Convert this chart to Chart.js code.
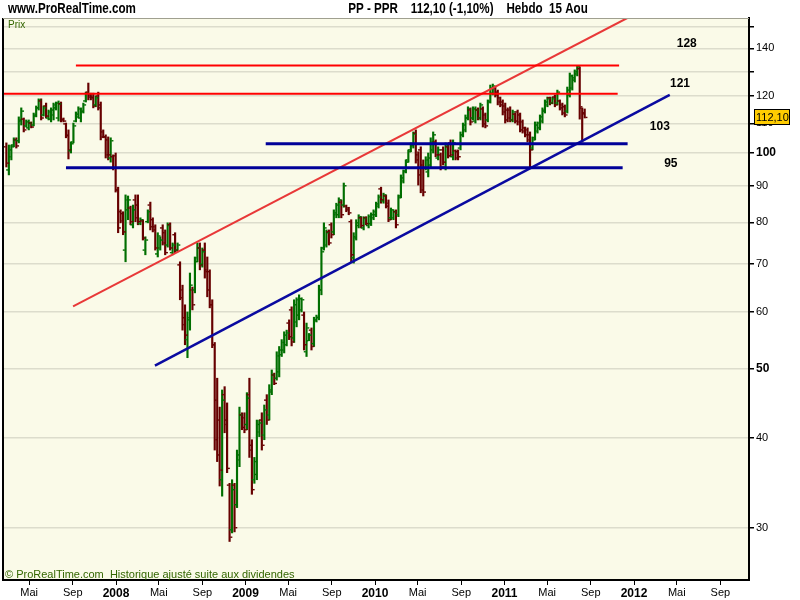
<!DOCTYPE html>
<html>
<head>
<meta charset="utf-8">
<script src="https://cdn.jsdelivr.net/npm/chart.js@4.4.0/dist/chart.umd.min.js"></script>
<style>
  html, body { margin: 0; padding: 0; background: #fff; }
  canvas { display: block; }
</style>
</head>
<body>
<canvas id="chart" width="800" height="600"></canvas>
<script>
// weekly bars, PP (PPR), from the week of 26 Feb 2007 to the week of 15 Aug 2011
const firstWeek = "2007-02-26";

const opens = [
  102.0, 94.7, 98.8, 102.6, 104.3, 104.0, 110.8, 111.5, 109.1, 108.4,
  110.1, 109.4, 112.6, 115.6, 118.2, 113.0, 116.3, 111.9, 111.5, 113.0,
  115.6, 111.9, 117.1, 111.5, 109.8, 106.0, 100.7, 103.6, 110.8, 112.3,
  111.9, 114.1, 118.2, 121.6, 120.5, 119.7, 116.7, 120.1, 116.7, 107.0,
  105.3, 104.3, 98.4, 98.8, 99.1, 88.8, 82.8, 82.3, 73.2, 83.3,
  83.8, 79.4, 86.0, 84.6, 79.7, 80.4, 73.2, 80.2, 84.6, 80.7,
  78.9, 72.3, 73.7, 78.6, 77.4, 74.4, 79.4, 72.6, 76.9, 73.2,
  69.8, 64.4, 58.9, 54.9, 58.5, 64.4, 64.4, 71.4, 73.7, 70.0,
  73.2, 68.7, 68.3, 61.4, 54.0, 45.2, 42.4, 35.0, 46.0, 42.4,
  34.4, 29.8, 34.4, 32.3, 37.3, 43.1, 42.7, 41.8, 46.0, 39.1,
  35.0, 35.6, 40.8, 42.4, 40.4, 45.2, 43.1, 46.4, 49.0, 48.5,
  49.5, 52.3, 53.1, 54.0, 57.9, 60.4, 55.2, 58.1, 59.4, 60.4,
  59.4, 52.8, 54.7, 56.6, 54.2, 58.3, 58.9, 64.4, 73.7, 74.4,
  77.6, 79.4, 77.6, 82.0, 82.0, 85.4, 84.6, 84.3, 83.8, 80.2,
  71.4, 76.4, 79.2, 81.2, 78.6, 81.2, 79.2, 79.7, 81.2, 82.0,
  84.3, 89.1, 85.7, 87.1, 85.1, 81.2, 81.2, 82.8, 82.0, 87.1,
  91.4, 94.4, 97.8, 101.0, 102.3, 106.6, 99.4, 101.0, 96.2, 95.3,
  94.1, 96.2, 101.0, 103.6, 98.4, 99.4, 101.0, 95.6, 102.0, 103.3,
  98.8, 100.7, 100.4, 101.6, 106.0, 107.7, 111.9, 114.8, 111.9, 110.8,
  114.8, 111.9, 115.2, 113.0, 111.2, 118.2, 121.2, 123.2, 121.6, 119.4,
  117.8, 116.3, 114.8, 114.8, 111.2, 113.3, 114.1, 113.0, 110.5, 108.4,
  107.7, 106.0, 101.6, 105.0, 107.3, 108.4, 110.8, 114.4, 116.7, 119.4,
  117.4, 119.7, 117.4, 118.2, 116.7, 116.0, 114.4, 120.5, 123.2, 126.4,
  128.9, 131.1, 115.5, 113.8
];

const highs = [
  103.3, 102.6, 102.6, 105.0, 105.0, 112.3, 115.6, 111.9, 111.2, 111.2,
  110.5, 113.7, 116.3, 119.0, 119.0, 116.3, 117.4, 114.8, 115.6, 117.4,
  117.8, 118.2, 117.8, 111.9, 110.1, 107.7, 103.6, 110.1, 114.1, 116.0,
  115.6, 117.4, 121.6, 125.2, 121.2, 121.2, 120.1, 121.6, 117.8, 107.7,
  106.0, 105.3, 105.0, 99.4, 100.0, 89.6, 83.3, 82.8, 87.4, 87.1,
  84.3, 84.6, 87.4, 87.4, 81.2, 80.7, 76.4, 83.3, 85.4, 81.2,
  79.4, 77.4, 76.4, 79.4, 78.1, 79.9, 79.9, 74.9, 77.4, 74.9,
  70.5, 65.4, 61.4, 60.0, 68.0, 65.0, 71.6, 74.9, 74.9, 73.7,
  74.9, 71.6, 68.7, 62.4, 54.4, 48.5, 44.2, 46.7, 47.2, 44.8,
  34.6, 35.0, 34.6, 38.5, 44.2, 43.4, 43.4, 46.3, 48.5, 39.8,
  37.6, 42.4, 42.4, 43.4, 44.5, 46.0, 47.5, 49.8, 49.3, 52.8,
  53.7, 54.9, 56.3, 56.6, 58.5, 61.0, 62.4, 62.8, 63.4, 62.8,
  60.0, 57.9, 56.0, 57.0, 59.0, 59.4, 65.4, 73.9, 79.9, 78.1,
  78.1, 79.9, 83.3, 85.1, 86.6, 86.0, 90.8, 84.6, 84.0, 80.7,
  77.4, 80.7, 82.0, 81.5, 81.5, 81.5, 82.0, 82.5, 83.3, 85.4,
  87.4, 89.6, 87.9, 87.4, 86.0, 83.8, 83.3, 83.3, 87.4, 93.2,
  94.7, 97.8, 101.0, 103.3, 107.0, 107.7, 100.4, 102.0, 97.8, 98.8,
  100.0, 105.0, 107.0, 104.3, 102.0, 100.0, 102.0, 103.3, 102.6, 104.3,
  104.3, 101.0, 101.0, 107.0, 110.1, 113.0, 116.0, 115.6, 116.0, 116.0,
  115.6, 117.4, 116.0, 113.7, 118.6, 124.4, 124.8, 123.6, 122.4, 119.7,
  118.6, 117.4, 115.6, 116.0, 114.8, 113.7, 114.8, 113.7, 111.2, 108.7,
  108.4, 107.0, 105.3, 110.5, 110.5, 113.0, 115.6, 118.6, 119.7, 119.7,
  119.7, 120.5, 122.4, 118.6, 117.4, 116.7, 123.6, 129.3, 128.5, 130.6,
  132.3, 131.9, 115.6, 115.2
];

const lows = [
  95.6, 93.2, 97.8, 102.0, 101.6, 103.3, 109.4, 107.0, 108.7, 107.7,
  108.4, 109.1, 112.3, 114.8, 111.2, 112.6, 111.9, 111.2, 110.5, 111.2,
  114.8, 110.8, 110.5, 110.5, 105.0, 98.1, 100.0, 103.3, 110.5, 111.9,
  110.5, 113.7, 117.8, 118.6, 118.6, 115.6, 116.0, 114.8, 104.3, 105.0,
  98.4, 97.8, 97.1, 94.7, 88.2, 77.4, 79.9, 76.9, 70.5, 80.7,
  79.4, 78.6, 80.2, 79.4, 79.4, 75.6, 72.1, 79.9, 78.1, 77.6,
  73.2, 71.6, 73.2, 74.4, 72.1, 73.9, 73.2, 72.1, 72.6, 72.8,
  62.4, 56.6, 54.0, 51.8, 56.6, 60.4, 63.8, 70.5, 68.7, 69.3,
  66.9, 63.0, 60.8, 53.5, 38.5, 37.1, 34.3, 33.2, 40.7, 35.8,
  28.7, 29.5, 29.6, 32.0, 36.5, 41.1, 40.7, 41.1, 37.6, 33.4,
  34.6, 35.0, 40.2, 38.5, 39.8, 41.8, 42.4, 46.0, 47.5, 48.2,
  48.7, 52.0, 52.6, 53.8, 54.9, 53.8, 54.4, 57.2, 58.5, 60.0,
  53.1, 52.0, 54.7, 53.1, 53.7, 58.1, 58.5, 63.4, 73.2, 73.9,
  74.4, 76.1, 76.9, 81.2, 81.2, 81.2, 84.0, 82.8, 82.0, 70.5,
  70.2, 75.6, 78.6, 78.6, 78.1, 79.4, 78.6, 79.2, 80.7, 81.5,
  83.8, 85.1, 85.1, 83.8, 80.2, 80.7, 80.7, 78.6, 81.5, 86.6,
  90.8, 93.8, 97.1, 100.4, 101.6, 96.8, 90.2, 88.0, 87.1, 94.7,
  92.6, 95.3, 100.0, 98.8, 97.8, 94.7, 96.2, 94.7, 98.4, 98.8,
  97.8, 97.8, 97.8, 101.0, 105.3, 107.0, 111.2, 109.4, 111.2, 110.1,
  111.2, 111.2, 108.7, 108.4, 110.5, 117.4, 120.5, 119.7, 116.7, 116.0,
  113.0, 110.1, 110.5, 110.5, 110.5, 110.1, 109.4, 107.0, 106.6, 105.3,
  103.6, 95.6, 101.0, 104.3, 106.6, 107.7, 110.1, 113.7, 116.0, 116.7,
  117.1, 116.0, 116.7, 114.8, 113.0, 112.3, 113.7, 119.7, 122.4, 125.6,
  128.1, 111.5, 103.6, 111.9
];

const closes = [
  96.8, 101.0, 102.0, 104.3, 102.3, 111.2, 114.4, 107.7, 110.5, 110.1,
  108.7, 113.0, 115.6, 118.6, 111.9, 115.6, 112.6, 114.1, 114.8, 116.7,
  117.4, 117.1, 111.2, 110.8, 105.7, 101.0, 103.0, 109.1, 113.3, 115.2,
  114.4, 116.7, 121.2, 119.7, 119.4, 116.3, 119.4, 115.6, 105.3, 105.3,
  99.4, 99.4, 104.0, 95.3, 88.8, 78.6, 80.4, 77.6, 86.0, 86.0,
  80.2, 83.3, 81.2, 80.2, 80.7, 76.1, 75.6, 82.8, 78.9, 78.1,
  73.7, 76.6, 75.6, 74.9, 72.6, 79.2, 73.7, 74.4, 73.2, 74.4,
  62.8, 57.6, 55.7, 58.9, 65.4, 61.4, 70.5, 73.7, 69.8, 72.8,
  68.3, 64.4, 61.4, 54.0, 39.8, 37.9, 36.1, 45.2, 41.8, 36.3,
  29.1, 33.9, 30.0, 37.9, 43.1, 41.4, 41.1, 45.5, 38.5, 33.9,
  37.1, 41.8, 42.0, 39.1, 43.8, 42.4, 46.7, 49.0, 47.7, 52.1,
  53.1, 54.4, 55.7, 56.1, 55.4, 54.5, 61.4, 62.4, 62.6, 62.4,
  54.0, 57.0, 55.7, 53.7, 58.5, 59.0, 64.4, 72.8, 78.6, 77.4,
  74.9, 76.9, 82.5, 84.6, 86.0, 82.0, 90.0, 83.3, 82.5, 72.1,
  76.1, 79.9, 81.5, 79.2, 81.0, 79.7, 81.5, 82.0, 82.8, 84.9,
  86.8, 86.0, 87.4, 84.3, 80.7, 83.3, 82.8, 79.4, 86.6, 92.3,
  94.1, 97.1, 100.4, 102.6, 106.3, 97.8, 93.2, 88.8, 88.2, 97.8,
  98.4, 103.6, 106.0, 99.4, 101.0, 95.6, 97.1, 102.3, 99.1, 99.4,
  103.3, 98.4, 98.8, 106.0, 109.4, 111.9, 115.2, 110.5, 115.2, 114.8,
  111.9, 116.7, 109.8, 109.1, 117.8, 123.2, 124.0, 120.5, 117.8, 116.7,
  114.1, 111.2, 111.9, 111.2, 114.1, 110.8, 110.5, 107.7, 107.3, 106.0,
  104.3, 101.0, 104.3, 109.4, 110.1, 112.3, 114.8, 117.8, 119.0, 117.4,
  119.0, 116.7, 121.6, 115.6, 113.7, 113.0, 122.4, 128.1, 127.3, 129.8,
  131.9, 116.0, 113.4, 112.1
];

const lastClose = 112.10;

// horizontal levels drawn on the chart (label text as written on the chart)
const levelNames = ["128", "121", "103", "95"];
const levelValues = [132.5, 121.0, 103.0, 95.4];
const levelStart = ["2007-09-10", "2007-02-17", "2009-02-27", "2007-08-13"];
const levelEnd = ["2011-11-20", "2011-11-16", "2011-12-14", "2011-11-30"];
const levelColors = ["#ff0000", "#ff0000", "#000099", "#000099"];

// trend lines
const redTrendDates = ["2007-09-02", "2011-12-13"];
const redTrendValues = [61.1, 154.3];
const blueTrendDates = ["2008-04-20", "2012-04-11"];
const blueTrendValues = [50.5, 120.5];

// axis ticks
const xTickDates = [
  "2007-05-01", "2007-09-01", "2008-01-01", "2008-05-01", "2008-09-01", "2009-01-01",
  "2009-05-01", "2009-09-01", "2010-01-01", "2010-05-01", "2010-09-01", "2011-01-01",
  "2011-05-01", "2011-09-01", "2012-01-01", "2012-05-01", "2012-09-01"
];
const xTickLabels = [
  "Mai", "Sep", "2008", "Mai", "Sep", "2009", "Mai", "Sep", "2010",
  "Mai", "Sep", "2011", "Mai", "Sep", "2012", "Mai", "Sep"
];
const yTicks = [30, 40, 50, 60, 70, 80, 90, 100, 110, 120, 130, 140, 150];
const yUnlabeled = [130, 150];

const FONT = "'Liberation Sans', Arial, sans-serif";

function toYear(d) {
    if (typeof d === "string") d = new Date(d + "T00:00:00Z");
    const y = d.getUTCFullYear();
    const a = Date.UTC(y, 0, 1), b = Date.UTC(y + 1, 0, 1);
    return y + (d.getTime() - a) / (b - a);
}

const weekStart = new Date(firstWeek + "T00:00:00Z").getTime();
const weekX = opens.map((_, i) => toYear(new Date(weekStart + i * 7 * 86400000)));
const barColors = opens.map((o, i) => closes[i] >= o ? "#006e00" : "#660000");

function segment(dates, values, color, width) {
    return {
        type: "line",
        data: dates.map((d, i) => ({ x: toYear(d), y: values[i] })),
        borderColor: color,
        borderWidth: width,
        pointRadius: 0,
        fill: false,
        order: 1
    };
}

const datasets = [{
    type: "bar",
    data: weekX.map((x, i) => ({ x: x, y: [lows[i], highs[i]] })),
    backgroundColor: barColors,
    barThickness: 1.5,
    grouped: false,
    order: 2
}];
levelNames.forEach((n, k) => {
    datasets.push(segment([levelStart[k], levelEnd[k]], [levelValues[k], levelValues[k]], levelColors[k], k < 2 ? 2 : 3));
});
datasets.push(segment(redTrendDates, redTrendValues, "#e83838", 2));
datasets.push(segment(blueTrendDates, blueTrendValues, "#0a0aa0", 2.5));

// where the level labels sit (date, price)
const levelLabelAt = [["2012-05-29", 141.9], ["2012-05-10", 124.8], ["2012-03-14", 108.7], ["2012-04-14", 96.5]];

function narrowText(ctx, text, x, y, align) {
    // header lines are in a condensed bold face
    const sx = 0.83;
    const w = ctx.measureText(text).width * sx;
    const left = align === "center" ? x - w / 2 : x;
    ctx.save();
    ctx.translate(left, y);
    ctx.scale(sx, 1);
    ctx.textAlign = "left";
    ctx.fillText(text, 0, 0);
    ctx.restore();
}

const ohlcTicks = {
    id: "ohlcTicks",
    beforeDraw(chart) {
        const { ctx, chartArea: a } = chart;
        ctx.save();
        ctx.fillStyle = "#fafae8";
        ctx.fillRect(a.left, a.top, a.right - a.left, a.bottom - a.top);
        ctx.restore();
    },
    afterDatasetDraw(chart, args) {
        if (args.index !== 0) return;
        const { ctx, scales: { x, y } } = chart;
        ctx.save();
        weekX.forEach((wx, i) => {
            const px = x.getPixelForValue(wx);
            ctx.fillStyle = barColors[i];
            ctx.fillRect(px - 2.75, y.getPixelForValue(opens[i]) - 0.7, 2, 1.4);
            ctx.fillRect(px + 0.75, y.getPixelForValue(closes[i]) - 0.7, 2, 1.4);
        });
        ctx.restore();
    },
    afterDraw(chart) {
        const { ctx, chartArea: a, scales: { x, y } } = chart;
        ctx.save();
        // frame
        ctx.strokeStyle = "#000";
        ctx.lineWidth = 2;
        ctx.beginPath();
        ctx.moveTo(a.left, a.top);
        ctx.lineTo(a.left, a.bottom);
        ctx.stroke();
        ctx.strokeStyle = "#a0a090";
        ctx.lineWidth = 1;
        ctx.beginPath();
        ctx.moveTo(a.left, a.top + 0.5);
        ctx.lineTo(a.right, a.top + 0.5);
        ctx.stroke();

        // headers
        ctx.fillStyle = "#000";
        ctx.textBaseline = "middle";
        ctx.font = "bold 14px " + FONT;
        narrowText(ctx, "www.ProRealTime.com", 8, 9, "left");
        narrowText(ctx, "PP - PPR    112,10 (-1,10%)    Hebdo  15 Aou", 468, 9, "center");

        ctx.textAlign = "left";
        ctx.fillStyle = "#336600";
        ctx.font = "10px " + FONT;
        ctx.fillText("Prix", 8, 25);
        ctx.font = "11px " + FONT;
        ctx.fillText("\u00a9 ProRealTime.com  Historique ajust\u00e9 suite aux dividendes", 5, 575);

        // level labels
        ctx.fillStyle = "#000";
        ctx.textAlign = "center";
        ctx.font = "bold 12px " + FONT;
        levelNames.forEach((n, k) => {
            ctx.fillText(n, x.getPixelForValue(toYear(levelLabelAt[k][0])), y.getPixelForValue(levelLabelAt[k][1]));
        });

        // last price badge
        const by = Math.round(y.getPixelForValue(lastClose));
        ctx.fillStyle = "#ffcc00";
        ctx.fillRect(754, by - 8, 36, 16);
        ctx.strokeStyle = "#000";
        ctx.strokeRect(754.5, by - 7.5, 35, 15);
        ctx.fillStyle = "#000";
        ctx.textAlign = "left";
        ctx.font = "11px " + FONT;
        ctx.fillText("112,10", 756, by + 0.5);
        ctx.restore();
    }
};

new Chart(document.getElementById("chart"), {
    data: { datasets: datasets },
    plugins: [ohlcTicks],
    options: {
        responsive: false,
        animation: false,
        devicePixelRatio: 1,
        layout: { padding: { left: 3, top: 18, right: 0, bottom: 0 } },
        plugins: { legend: { display: false }, tooltip: { enabled: false } },
        scales: {
            x: {
                type: "linear",
                position: "bottom",
                offset: false,
                min: 2007.1274,
                max: 2012.888,
                afterBuildTicks: s => { s.ticks = xTickDates.map(d => ({ value: toYear(d) })); },
                afterFit: s => { s.height = 20; },
                grid: { drawOnChartArea: false, offset: false, tickLength: 5, tickColor: "#000" },
                border: { color: "#000", width: 2 },
                ticks: {
                    autoSkip: false,
                    maxRotation: 0,
                    padding: 1,
                    color: "#000",
                    callback: (v, i) => xTickLabels[i],
                    font: c => /^\d{4}$/.test(xTickLabels[c.index] || "")
                        ? { family: FONT, size: 12, weight: "bold" }
                        : { family: FONT, size: 11 }
                }
            },
            y: {
                type: "logarithmic",
                position: "right",
                min: 25.36,
                max: 154.3,
                afterBuildTicks: s => { s.ticks = yTicks.map(v => ({ value: v })); },
                afterFit: s => { s.width = 51; },
                grid: { color: "#dcdccc", tickColor: "#000", tickLength: 5, lineWidth: 1.5 },
                border: { color: "#000", width: 2 },
                ticks: {
                    padding: 2,
                    color: "#000",
                    callback: v => yUnlabeled.includes(v) ? "" : String(v),
                    font: c => (c.tick && (c.tick.value === 100 || c.tick.value === 50))
                        ? { family: FONT, size: 12, weight: "bold" }
                        : { family: FONT, size: 11 }
                }
            }
        }
    }
});
</script>
</body>
</html>
